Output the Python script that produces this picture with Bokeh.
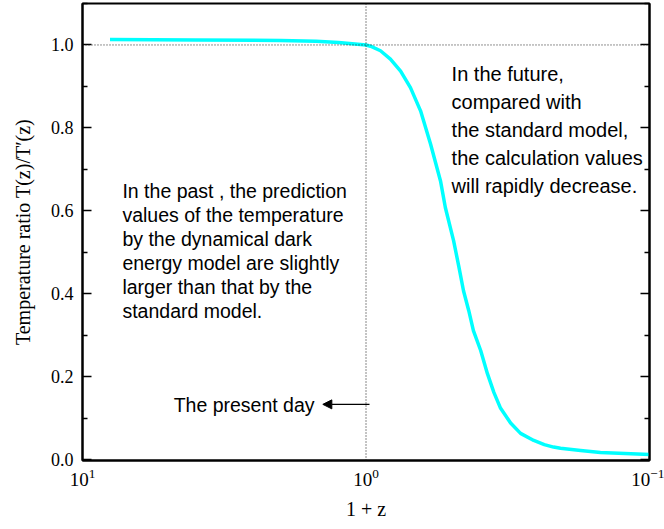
from bokeh.plotting import figure
from bokeh.models import (Range1d, LinearAxis, Span, Label, Arrow, NormalHead,
                          FixedTicker, LogTickFormatter, PrintfTickFormatter,
                          CustomJSTickFormatter)
from bokeh.embed import file_html
from bokeh.resources import INLINE

# ---- data ----
one_plus_z = [8.0, 4.0, 2.0, 1.5, 1.25, 1.0, 0.964, 0.889, 0.820, 0.755, 0.697,
              0.642, 0.592, 0.546, 0.525, 0.491, 0.471, 0.453, 0.434, 0.418,
              0.394, 0.373, 0.354, 0.336, 0.309, 0.285, 0.256, 0.235, 0.218,
              0.206, 0.175, 0.149, 0.1]
ratio = [1.013, 1.012, 1.011, 1.009, 1.006, 1.000, 0.997, 0.986, 0.966, 0.937,
         0.897, 0.841, 0.761, 0.672, 0.608, 0.528, 0.467, 0.407, 0.359, 0.311,
         0.263, 0.207, 0.162, 0.125, 0.088, 0.063, 0.046, 0.036, 0.030,
         0.027, 0.022, 0.017, 0.012]

x_ticks = [10, 1, 0.1]
y_ticks = [0.0, 0.2, 0.4, 0.6, 0.8, 1.0]
y_minor = [0.1, 0.3, 0.5, 0.7, 0.9, 1.1]
present_x = 1.0
ref_y = 1.0

left_lines = ["In the past , the prediction",
              "values of the temperature",
              "by the dynamical dark",
              "energy model are slightly",
              "larger than that by the",
              "standard model."]
right_lines = ["In the future,",
               "compared with",
               "the standard model,",
               "the calculation values",
               "will rapidly decrease."]
present_text = "The present day"

SERIF = "Liberation Serif"
SANS = "Liberation Sans"

p = figure(width=664, height=529, output_backend="svg", toolbar_location=None,
           x_axis_type="log", x_range=Range1d(10, 0.1), y_range=Range1d(-0.0024, 1.1),
           min_border_left=82, min_border_right=15, min_border_top=3, min_border_bottom=69)
p.xgrid.visible = False
p.ygrid.visible = False
p.outline_line_color = "black"
p.outline_line_width = 2
p.background_fill_color = "white"
p.border_fill_color = "white"

# x axis
xa = p.xaxis[0]
xa.ticker = FixedTicker(ticks=x_ticks)
xa.formatter = LogTickFormatter()
xa.major_tick_in = 0
xa.major_tick_out = 0
xa.minor_tick_in = 0
xa.minor_tick_out = 0
xa.axis_line_width = 2
xa.axis_line_color = "black"
xa.major_label_text_font = SERIF
xa.major_label_text_font_size = "19px"
xa.major_label_text_color = "black"
xa.major_label_standoff = 8
xa.axis_label = "1 + z"
xa.axis_label_text_font = SERIF
xa.axis_label_text_font_style = "normal"
xa.axis_label_text_font_size = "20px"
xa.axis_label_text_color = "black"
xa.axis_label_standoff = 9

# y axis
ya = p.yaxis[0]
ya.ticker = FixedTicker(ticks=y_ticks, minor_ticks=y_minor)
ya.formatter = PrintfTickFormatter(format="%.1f")
ya.major_tick_in = 9
ya.major_tick_out = 0
ya.minor_tick_in = 5
ya.minor_tick_out = 0
ya.axis_line_width = 2
ya.axis_line_color = "black"
ya.major_tick_line_width = 1.5
ya.minor_tick_line_width = 1.5
ya.major_label_text_font = SERIF
ya.major_label_text_font_size = "18px"
ya.major_label_text_color = "black"
ya.major_label_standoff = 9
ya.axis_label = "Temperature ratio T(z)/T\u2032(z)"
ya.axis_label_text_font = SERIF
ya.axis_label_text_font_style = "normal"
ya.axis_label_text_font_size = "20px"
ya.axis_label_text_color = "black"
ya.axis_label_standoff = 14

# right axis (ticks only, no labels)
ra = LinearAxis(ticker=FixedTicker(ticks=y_ticks, minor_ticks=y_minor),
                formatter=CustomJSTickFormatter(code="return ''"),
                major_tick_in=9, major_tick_out=0, minor_tick_in=5, minor_tick_out=0,
                axis_line_width=2, major_tick_line_width=1.5, minor_tick_line_width=1.5,
                major_label_standoff=0)
p.add_layout(ra, "right")

# reference lines
p.add_layout(Span(location=ref_y, dimension="width", line_color="#222222",
                  line_dash="1 2", line_width=1))
p.add_layout(Span(location=present_x, dimension="height", line_color="#111111",
                  line_dash="1 2", line_width=1))

# curve
p.line(one_plus_z, ratio, line_color="#00FFFF", line_width=3.5)

# texts
left_x = 7.23
left_y0 = 0.648
left_dy = 0.0578
for i, t in enumerate(left_lines):
    p.add_layout(Label(x=left_x, y=left_y0 - i * left_dy, text=t, text_font=SANS,
                       text_font_size="19.5px", text_baseline="middle", text_color="black"))

right_x = 0.499
right_y0 = 0.930
right_dy = 0.0675
for i, t in enumerate(right_lines):
    p.add_layout(Label(x=right_x, y=right_y0 - i * right_dy, text=t, text_font=SANS,
                       text_font_size="20px", text_baseline="middle", text_color="black"))

p.add_layout(Label(x=4.77, y=0.1325, text=present_text, text_font=SANS,
                   text_font_size="19.5px", text_baseline="middle", text_color="black"))

p.add_layout(Arrow(x_start=0.972, y_start=0.133, x_end=1.42, y_end=0.133,
                   line_color="black", line_width=1.2,
                   end=NormalHead(size=9, fill_color="black", line_color="black")))

open("out.html", "w").write(file_html(p, INLINE))
